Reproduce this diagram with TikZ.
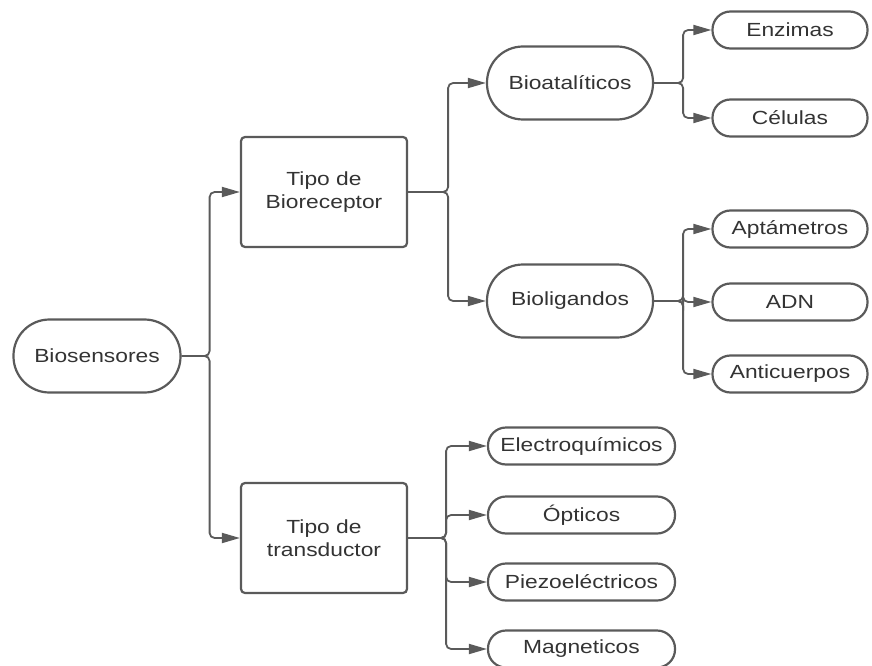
\documentclass[tikz,border=0pt]{standalone}
\usepackage{fontspec}
\setmainfont{Liberation Sans}[FakeStretch=1.2]
\usetikzlibrary{arrows.meta}
\definecolor{linegray}{HTML}{5A5A5A}
\definecolor{textgray}{HTML}{333333}
\begin{document}
\begin{tikzpicture}[x=1pt,y=-1pt,
  base/.style={draw=linegray, line width=2.2pt, text=textgray, align=center,
    inner sep=0pt, font=\fontsize{19}{23}\selectfont},
  pill/.style={base, rounded corners=36pt, minimum width=166pt, minimum height=73pt},
  smallpill/.style={base, rounded corners=18pt, minimum height=37pt},
  box/.style={base, rounded corners=4pt, minimum width=166pt, minimum height=110pt},
  conn/.style={draw=linegray, line width=1.8pt, rounded corners=5pt,
    -{Triangle[length=18pt,width=10pt]}}
]
\useasboundingbox (0,0) rectangle (872,666);

% root and second level
\node[pill, minimum width=167pt] (bio) at (97,356) {Biosensores};
\node[box] (rec) at (324,192) {Tipo de\\Bioreceptor};
\node[box] (tra) at (324,538) {Tipo de\\transductor};

% receptor types
\node[pill] (cat) at (570,83) {Bioatalíticos};
\node[pill] (lig) at (570,301) {Bioligandos};

% leaves of the receptor branch
\node[smallpill, minimum width=155pt] (enz) at (790,30) {Enzimas};
\node[smallpill, minimum width=155pt] (cel) at (790,118) {Células};
\node[smallpill, minimum width=155pt] (apt) at (790,229) {Aptámetros};
\node[smallpill, minimum width=155pt] (adn) at (790,302) {ADN};
\node[smallpill, minimum width=155pt] (ant) at (790,374) {Anticuerpos};

% transducer types
\node[smallpill, minimum width=187pt] (ele) at (581.5,446) {Electroquímicos};
\node[smallpill, minimum width=187pt] (opt) at (581.5,515) {Ópticos};
\node[smallpill, minimum width=187pt] (pie) at (581.5,582) {Piezoeléctricos};
\node[smallpill, minimum width=187pt] (mag) at (581.5,649) {Magneticos};

% connectors
\foreach \t in {rec,tra}
  \draw[conn] (bio.east) -- ++(28,0) |- (\t.west);
\foreach \t in {cat,lig}
  \draw[conn] (rec.east) -- ++(40,0) |- (\t.west);
\foreach \t in {enz,cel}
  \draw[conn] (cat.east) -- ++(29,0) |- (\t.west);
\foreach \t in {apt,adn,ant}
  \draw[conn] (lig.east) -- ++(29,0) |- (\t.west);
\foreach \t in {ele,opt,pie,mag}
  \draw[conn] (tra.east) -- ++(38,0) |- (\t.west);
\end{tikzpicture}
\end{document}
